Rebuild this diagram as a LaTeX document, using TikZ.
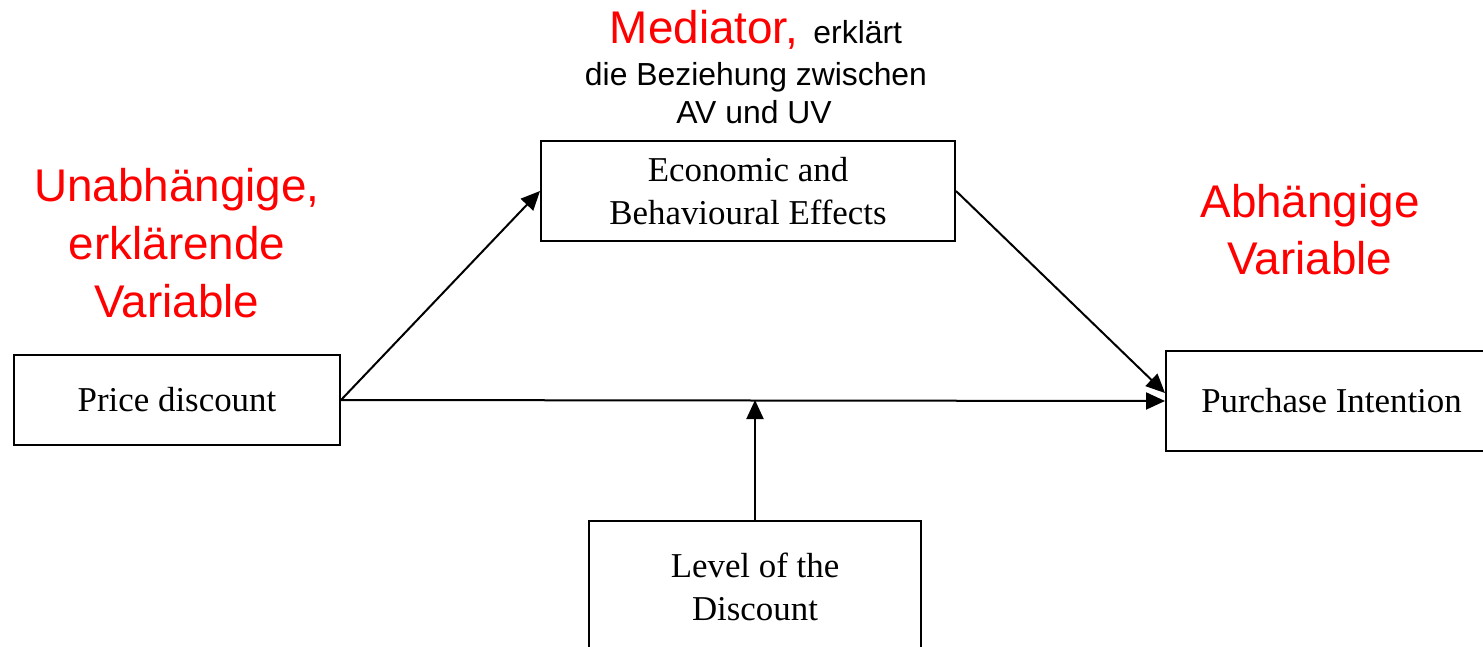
\documentclass[tikz,border=0pt]{standalone}
\usepackage{fontspec}
\setmainfont{Liberation Serif}
\newfontfamily\arialfont{Liberation Sans}
\usetikzlibrary{arrows.meta}
\definecolor{labelred}{RGB}{255,0,0}
\begin{document}
\begin{tikzpicture}[x=1bp,y=-1bp,
  varbox/.style={draw,line width=2bp,inner sep=0,align=center,
    font=\fontsize{35}{43}\selectfont},
  link/.style={line width=2bp,-{Triangle[length=19bp,width=17bp]}},
  redlabel/.style={anchor=base,inner sep=0,text=labelred,
    font=\arialfont\fontsize{46}{57.5}\selectfont},
  blacklabel/.style={anchor=base,inner sep=0,
    font=\arialfont\fontsize{32}{38}\selectfont}]
\useasboundingbox (0,0) rectangle (1483,647);

% variable boxes
\node[varbox,minimum width=326bp,minimum height=90bp]  (pd) at (177,400)    {Price discount};
\node[varbox,minimum width=414bp,minimum height=100bp] (ec) at (748,191)    {Economic and\\Behavioural Effects};
\node[varbox,minimum width=331bp,minimum height=100bp] (pi) at (1331.5,401) {Purchase Intention};
\node[varbox,minimum width=332bp,minimum height=132bp] (lv) at (755,587)    {Level of the\\Discount};

% paths between the variables
\draw[link] (pd.east) -- (ec.west);
\draw[link] (ec.east) -- ([yshift=8bp]pi.west);
\draw[link] (pd.east) -- (pi.west);
\draw[link] (lv.north) -- (lv.north |- pd.east);

% role labels
\node[redlabel] (iv1) at (177,202) {Unabhängige,};
\node[redlabel] (iv2) at (177,259) {erklärende};
\node[redlabel] (iv3) at (177,317) {Variable};

\node[redlabel] (dv1) at (1310,218) {Abhängige};
\node[redlabel] (dv2) at (1310,274) {Variable};

\node[anchor=base,inner sep=0,font=\arialfont] (md1) at (756,44)
  {{\fontsize{46}{55}\selectfont\color{labelred}Mediator,}\hspace{15bp}{\fontsize{32}{38}\selectfont erklärt}};
\node[blacklabel] (md2) at (756,86)  {die Beziehung zwischen};
\node[blacklabel] (md3) at (754,124) {AV und UV};
\end{tikzpicture}
\end{document}
